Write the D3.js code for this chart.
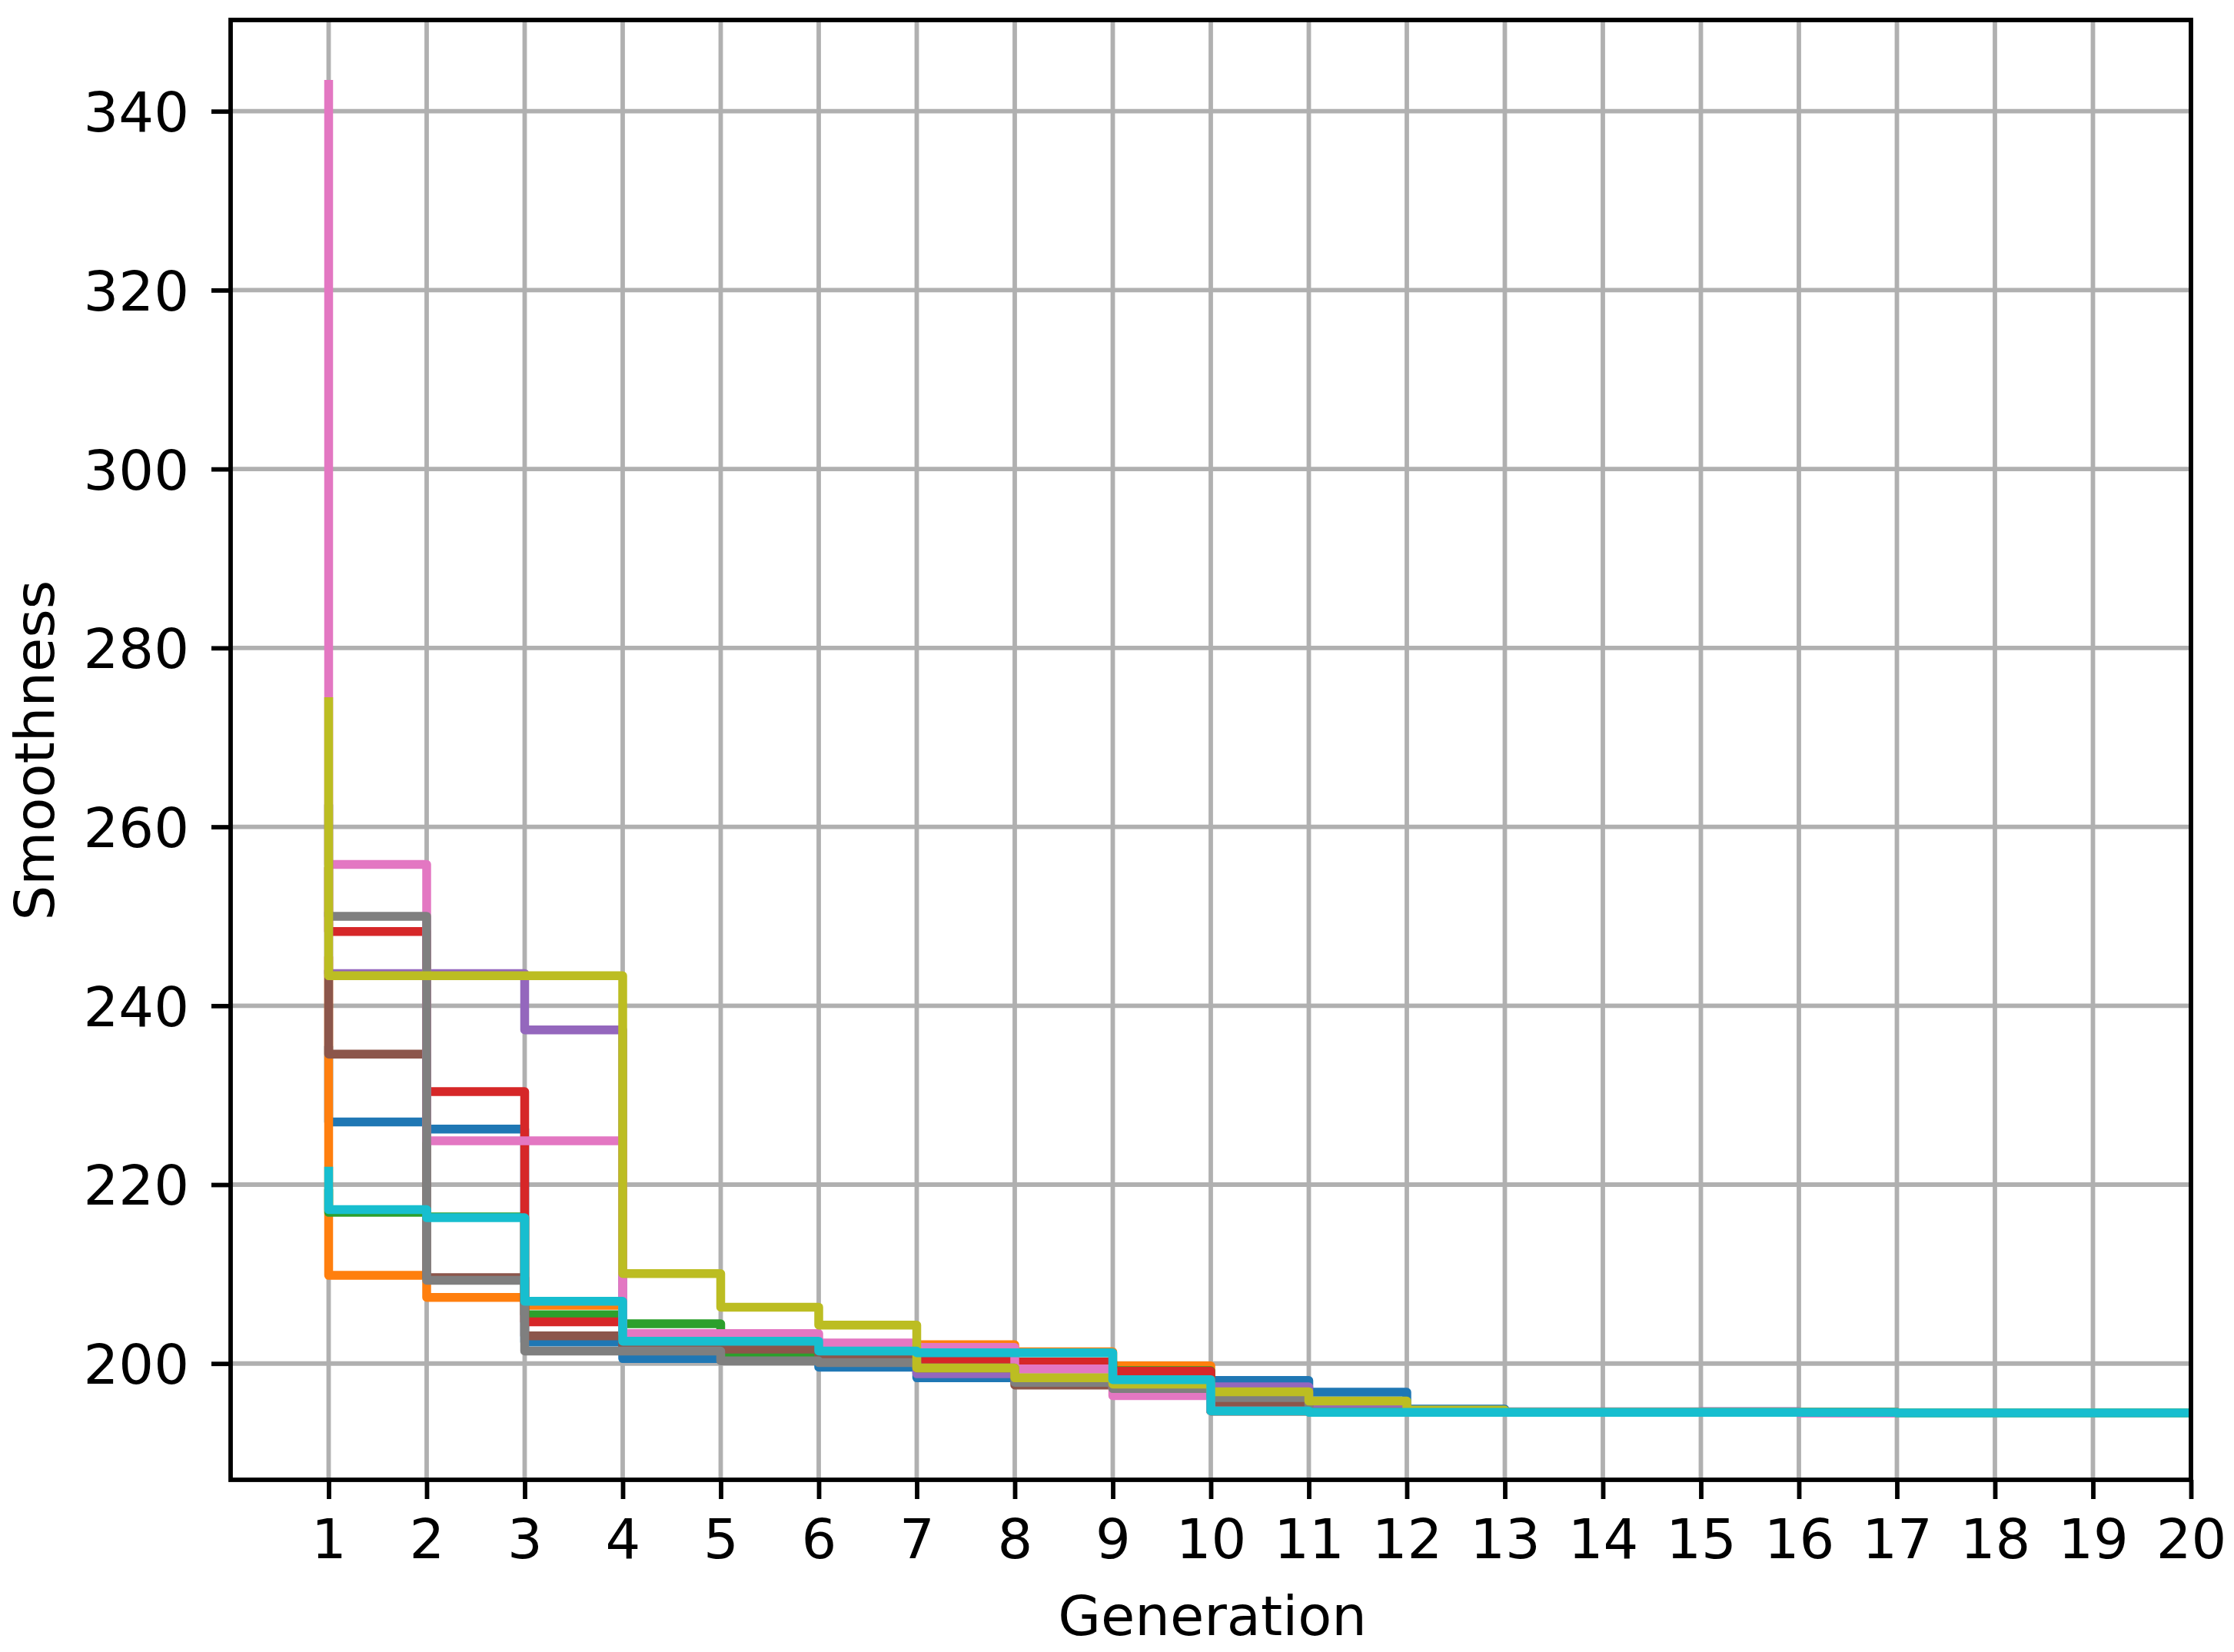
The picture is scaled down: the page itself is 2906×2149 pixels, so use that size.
<!DOCTYPE html>
<html><head><meta charset="utf-8">
<script src="https://cdn.jsdelivr.net/npm/d3@7"></script>
<style>body{margin:0;background:#fff}</style>
</head><body>
<script>
// ---- data ----
const generations = [1,2,3,4,5,6,7,8,9,10,11,12,13,14,15,16,17,18,19,20];
const yTickValues = [200,220,240,260,280,300,320,340];
const run1 = [235, 227.0, 226.2, 202.4, 200.55, 200.55, 199.6, 198.4, 198.35, 198.2, 198.1, 196.8, 194.9, 194.55, 194.55, 194.55, 194.55, 194.47, 194.47, 194.47];
const run2 = [245, 209.85, 207.4, 206.5, 202.5, 202.5, 202.2, 202.1, 201.3, 199.74, 194.7, 194.6, 194.55, 194.55, 194.55, 194.55, 194.55, 194.47, 194.47, 194.47];
const run3 = [219, 216.9, 216.4, 205.45, 204.45, 201.1, 201.1, 200.7, 200.2, 199.2, 194.7, 194.6, 194.55, 194.55, 194.55, 194.55, 194.55, 194.47, 194.47, 194.47];
const run4 = [255, 248.3, 230.4, 204.65, 202.5, 202.5, 201.4, 200.4, 200.17, 199.14, 194.7, 194.6, 194.55, 194.55, 194.55, 194.55, 194.55, 194.47, 194.47, 194.47];
const run5 = [250, 243.6, 243.6, 237.3, 203.3, 202.5, 201.4, 198.85, 198.4, 197.7, 197.4, 195.2, 194.6, 194.6, 194.6, 194.62, 194.5, 194.47, 194.47, 194.47];
const run6 = [243.5, 234.6, 209.6, 203.1, 201.9, 201.6, 200.8, 199.5, 197.6, 197.2, 195.6, 194.6, 194.55, 194.55, 194.55, 194.55, 194.55, 194.47, 194.47, 194.47];
const run7 = [343, 255.8, 224.9, 224.9, 203.35, 203.35, 202.3, 201.8, 199.4, 196.4, 194.7, 194.6, 194.55, 194.55, 194.55, 194.55, 194.45, 194.47, 194.47, 194.47];
const run8 = [262, 250.0, 209.3, 201.4, 201.4, 200.3, 200.1, 199.5, 197.9, 197.2, 196.2, 194.6, 194.55, 194.55, 194.55, 194.55, 194.55, 194.47, 194.47, 194.47];
const run9 = [274, 243.35, 243.35, 243.35, 210.05, 206.3, 204.3, 199.5, 198.4, 197.7, 196.85, 195.8, 194.8, 194.55, 194.55, 194.55, 194.55, 194.47, 194.47, 194.47];
const run10 = [221.5, 217.2, 216.3, 206.95, 202.5, 202.5, 201.4, 201.2, 201.2, 198.2, 194.7, 194.55, 194.55, 194.55, 194.55, 194.55, 194.55, 194.47, 194.47, 194.47];
const seriesValues = [run1, run2, run3, run4, run5, run6, run7, run8, run9, run10];
const seriesColors = ["#1f77b4","#ff7f0e","#2ca02c","#d62728","#9467bd","#8c564b","#e377c2","#7f7f7f","#bcbd22","#17becf"];
const xLabel = "Generation";
const yLabel = "Smoothness";

// ---- layout ----
const W = 2906, H = 2149;
const L = 300, R = 2850, T = 26, B = 1925;
const FONT = "'DejaVu Sans', sans-serif";
const FS = 72;
const thin = 5.8;

const svg = d3.select("body").append("svg").attr("width", W).attr("height", H)
  .style("display","block");
svg.append("rect").attr("width", W).attr("height", H).attr("fill", "#fff");

const x = d3.scaleLinear().domain([0, 20]).range([L, R]);
const y = d3.scaleLinear().domain([187.0, 350.2]).range([B, T]);

// grid
const grid = svg.append("g");
grid.selectAll("line.gx").data(generations).join("line")
  .attr("x1", d => x(d)).attr("x2", d => x(d)).attr("y1", T).attr("y2", B)
  .attr("stroke", "#b0b0b0").attr("stroke-width", thin);
grid.selectAll("line.gy").data(yTickValues).join("line")
  .attr("y1", d => y(d)).attr("y2", d => y(d)).attr("x1", L).attr("x2", R)
  .attr("stroke", "#b0b0b0").attr("stroke-width", thin);

// lines
svg.append("defs").append("clipPath").attr("id", "clip")
  .append("rect").attr("x", L).attr("y", T).attr("width", R - L).attr("height", B - T);
const line = d3.line().curve(d3.curveStepBefore)
  .x((d, i) => x(generations[i])).y(d => y(d));
svg.append("g").attr("clip-path", "url(#clip)")
  .selectAll("path").data(seriesValues).join("path")
  .attr("d", d => line(d))
  .attr("fill", "none")
  .attr("stroke", (d, i) => seriesColors[i])
  .attr("stroke-width", 11.5)
  .attr("stroke-linejoin", "round")
  .attr("stroke-linecap", "square");

// axes
const xAxis = d3.axisBottom(x).tickValues(generations).tickSize(25).tickPadding(26).tickSizeOuter(0);
const gx = svg.append("g").attr("transform", `translate(0,${B})`).call(xAxis);
const yAxis = d3.axisLeft(y).tickValues(yTickValues).tickSize(25).tickPadding(29).tickSizeOuter(0);
const gy = svg.append("g").attr("transform", `translate(${L},0)`).call(yAxis);
[gx, gy].forEach(g => {
  g.selectAll("path.domain").remove();
  g.selectAll(".tick line").attr("stroke", "#000").attr("stroke-width", thin);
  g.selectAll(".tick text").attr("fill", "#000").style("font-family", FONT).style("font-size", FS + "px");
});
gy.selectAll(".tick text").attr("dy", "0.36em");

// spines
svg.append("rect").attr("x", L).attr("y", T).attr("width", R - L).attr("height", B - T)
  .attr("fill", "none").attr("stroke", "#000").attr("stroke-width", thin)
  .attr("stroke-linejoin", "miter");

// labels
svg.append("text").attr("x", (L + R) / 2 + 2).attr("y", 2127)
  .attr("text-anchor", "middle").style("font-family", FONT).style("font-size", FS + "px")
  .text(xLabel);
svg.append("text").attr("transform", "translate(70,976) rotate(-90)")
  .attr("text-anchor", "middle").style("font-family", FONT).style("font-size", FS + "px")
  .text(yLabel);
</script>
</body></html>
